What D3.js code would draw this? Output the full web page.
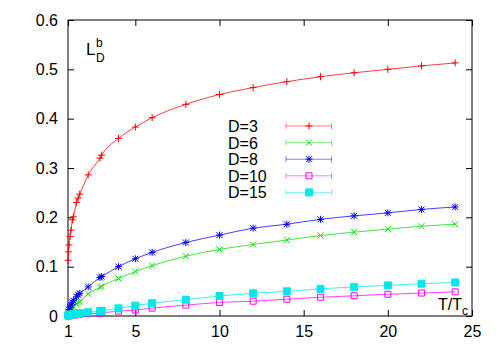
<!DOCTYPE html>
<html>
<head>
<meta charset="utf-8">
<script src="https://cdn.jsdelivr.net/npm/d3@7"></script>
<style>
  body { margin: 0; background: #fff; }
  svg { display: block; font-family: "Liberation Sans", Arial, sans-serif; }
</style>
</head>
<body>
<svg id="chart" width="500" height="350"></svg>
<script>
// T/Tc sample points
const tRatio = [1.01, 1.03, 1.06, 1.12, 1.18, 1.26, 1.32, 1.5, 1.6, 1.7, 2.2, 2.9, 3,
  4, 5, 6, 8, 10, 12, 14, 16, 18, 20, 22, 24];

const ldD3 = [0.113, 0.130, 0.144, 0.161, 0.174, 0.195, 0.201, 0.230, 0.239, 0.247, 0.286, 0.320, 0.326,
  0.360, 0.383, 0.402, 0.429, 0.449, 0.463, 0.475, 0.485, 0.493, 0.500, 0.507, 0.513];
const ldD6 = [0.002, 0.004, 0.007, 0.010, 0.013, 0.017, 0.019, 0.024, 0.027, 0.029, 0.045, 0.058, 0.060,
  0.076, 0.090, 0.102, 0.121, 0.135, 0.145, 0.154, 0.163, 0.170, 0.176, 0.182, 0.186];
const ldD8 = [0.005, 0.009, 0.013, 0.018, 0.022, 0.028, 0.031, 0.039, 0.043, 0.046, 0.059, 0.078, 0.080,
  0.100, 0.116, 0.129, 0.149, 0.164, 0.178, 0.186, 0.196, 0.203, 0.209, 0.216, 0.221];
const ldD10 = [0.0002, 0.0004, 0.0006, 0.001, 0.0013, 0.0017, 0.002, 0.0025, 0.003, 0.0033, 0.0045, 0.0055, 0.006,
  0.010, 0.012, 0.016, 0.022, 0.0275, 0.030, 0.034, 0.038, 0.041, 0.044, 0.0465, 0.049];
const ldD15 = [0.001, 0.0015, 0.002, 0.0025, 0.003, 0.0035, 0.004, 0.0045, 0.005, 0.0055, 0.0075, 0.010, 0.0105,
  0.0155, 0.021, 0.026, 0.033, 0.0405, 0.046, 0.050, 0.055, 0.059, 0.062, 0.0655, 0.068];

const xTicks = [1, 5, 10, 15, 20, 25];
const yTicks = [0, 0.1, 0.2, 0.3, 0.4, 0.5, 0.6];

const MARK = {
  plus: { d: 'M-3.5,0H3.5M0,-3.5V3.5', fill: false },
  cross: { d: 'M-3,-3L3,3M-3,3L3,-3', fill: false },
  star: { d: 'M-3.5,0H3.5M0,-3.5V3.5M-3,-3L3,3M-3,3L3,-3', fill: false },
  box: { d: 'M-3,-3H3V3H-3Z', fill: false },
  boxFilled: { d: 'M-3.5,-3.5H3.5V3.5H-3.5Z', fill: true }
};

const series = [
  { name: 'D=3', color: '#ff0000', mark: MARK.plus, values: ldD3 },
  { name: 'D=6', color: '#00e000', mark: MARK.cross, values: ldD6 },
  { name: 'D=8', color: '#0000ff', mark: MARK.star, values: ldD8 },
  { name: 'D=10', color: '#ff00ff', mark: MARK.box, values: ldD10 },
  { name: 'D=15', color: '#00e8e8', mark: MARK.boxFilled, values: ldD15 }
];

const svg = d3.select('#chart');
const margin = { top: 20, right: 28, bottom: 34, left: 68 };
const width = 500 - margin.left - margin.right,
  height = 350 - margin.top - margin.bottom;

const x = d3.scaleLinear().domain([1, 25]).range([0, width]);
const y = d3.scaleLinear().domain([0, 0.6]).range([height, 0]);

const root = svg.append('g').attr('transform', `translate(${margin.left},${margin.top})`);

// axes with inward ticks, mirrored on top and right
root.append('g')
  .attr('transform', `translate(0,${height})`)
  .call(d3.axisBottom(x).tickValues(xTicks).tickSizeInner(-6).tickSizeOuter(0).tickPadding(10)
    .tickFormat(d3.format('d')));
root.append('g')
  .call(d3.axisTop(x).tickValues(xTicks).tickSizeInner(-6).tickSizeOuter(0).tickFormat(''));
root.append('g')
  .call(d3.axisLeft(y).tickValues(yTicks).tickSizeInner(-6).tickSizeOuter(0).tickPadding(10)
    .tickFormat(d => d === 0 ? '0' : d3.format('.1f')(d)));
root.append('g')
  .attr('transform', `translate(${width},0)`)
  .call(d3.axisRight(y).tickValues(yTicks).tickSizeInner(-6).tickSizeOuter(0).tickFormat(''));

root.selectAll('.domain').remove();
root.selectAll('.tick line').attr('stroke', '#000');
root.selectAll('.tick text').attr('font-size', 16).attr('fill', '#000')
  .attr('font-family', '"Liberation Sans", Arial, sans-serif');

root.append('rect')
  .attr('x', 0).attr('y', 0).attr('width', width).attr('height', height)
  .attr('fill', 'none').attr('stroke', '#000').attr('stroke-width', 1);

// curves + markers
const line = d3.line()
  .x((d, i) => x(tRatio[i]))
  .y(d => y(d))
  .curve(d3.curveMonotoneX);

series.forEach(s => {
  root.append('path')
    .datum(s.values)
    .attr('d', line)
    .attr('fill', 'none')
    .attr('stroke', s.color)
    .attr('stroke-width', 1)
    .attr('stroke-opacity', 0.75);
  root.append('g').selectAll('path')
    .data(s.values)
    .join('path')
    .attr('transform', (d, i) => `translate(${x(tRatio[i])},${y(d)})`)
    .attr('d', s.mark.d)
    .attr('fill', s.mark.fill ? s.color : 'none')
    .attr('stroke', s.color)
    .attr('stroke-width', 1);
});

// legend
const legend = root.append('g').attr('transform', 'translate(160,106)');
series.forEach((s, i) => {
  const g = legend.append('g').attr('transform', `translate(0,${i * 16.6})`);
  g.append('text').attr('x', 0).attr('y', 6).text(s.name)
    .attr('font-size', 16).attr('fill', '#000');
  g.append('path')
    .attr('d', 'M58,0H103.5M58,-3V3M103.5,-3V3')
    .attr('fill', 'none').attr('stroke', s.color).attr('stroke-opacity', 0.5);
  g.append('path')
    .attr('transform', 'translate(81,0)')
    .attr('d', s.mark.d)
    .attr('fill', s.mark.fill ? s.color : 'none')
    .attr('stroke', s.color);
});

// axis labels
root.append('text').attr('x', 18).attr('y', 35).attr('font-size', 17).attr('fill', '#000').text('L');
root.append('text').attr('x', 28).attr('y', 27).attr('font-size', 12).attr('fill', '#000').text('b');
root.append('text').attr('x', 28).attr('y', 42).attr('font-size', 12).attr('fill', '#000').text('D');

const xl = root.append('text').attr('x', 370).attr('y', 290).attr('font-size', 16).attr('fill', '#000');
xl.append('tspan').text('T/T');
xl.append('tspan').attr('font-size', 12).attr('dy', 5).text('c');
</script>
</body>
</html>
